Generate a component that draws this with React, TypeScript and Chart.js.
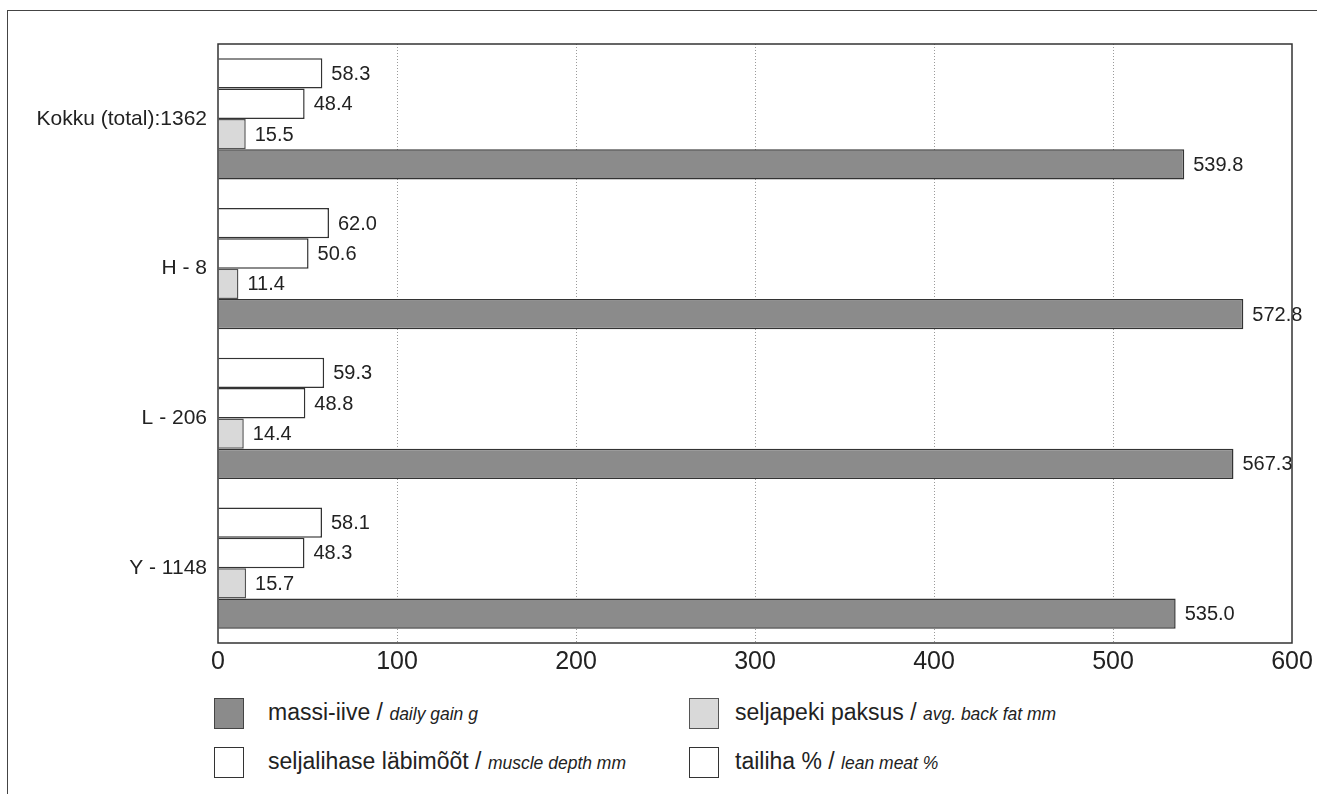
import React, { useEffect, useRef } from "react";
import { Chart, registerables } from "chart.js";

Chart.register(...registerables);

const categories = ["Kokku (total):1362", "H - 8", "L - 206", "Y - 1148"];
const leanMeat = [58.3, 62.0, 59.3, 58.1];
const muscleDepth = [48.4, 50.6, 48.8, 48.3];
const backFat = [15.5, 11.4, 14.4, 15.7];
const dailyGain = [539.8, 572.8, 567.3, 535.0];
const xTicks = [0, 100, 200, 300, 400, 500, 600];

const FONT = "'Liberation Sans', Arial, sans-serif";

const DARK = "#8b8b8b";
const LIGHT = "#d9d9d9";

const frameBox = {
  id: "frameBox",
  afterDraw(chart: any) {
    const { ctx, chartArea } = chart;
    ctx.save();
    ctx.strokeStyle = "#333";
    ctx.lineWidth = 1.5;
    ctx.strokeRect(chartArea.left, chartArea.top, chartArea.right - chartArea.left, chartArea.bottom - chartArea.top);
    ctx.restore();
  },
};

const valueLabels = {
  id: "valueLabels",
  afterDatasetsDraw(chart: any) {
    const { ctx } = chart;
    ctx.save();
    ctx.font = `20px ${FONT}`;
    ctx.fillStyle = "#222";
    ctx.textAlign = "left";
    ctx.textBaseline = "middle";
    chart.data.datasets.forEach((ds: any, i: number) => {
      const meta = chart.getDatasetMeta(i);
      meta.data.forEach((el: any, j: number) => {
        const v = ds.data[j] as number;
        ctx.fillText(v.toFixed(1), el.x + 9, el.y + 1);
      });
    });
    ctx.restore();
  },
};

function App() {
  const ref = useRef<HTMLCanvasElement | null>(null);
  useEffect(() => {
    if (!ref.current) return;
    const chart = new Chart(ref.current, {
      type: "bar",
      data: {
        labels: categories,
        datasets: [
          { label: "tailiha % / lean meat %", data: leanMeat, backgroundColor: "#ffffff", borderColor: "#333", borderWidth: 1.5 },
          { label: "seljalihase läbimõõt / muscle depth mm", data: muscleDepth, backgroundColor: "#ffffff", borderColor: "#333", borderWidth: 1.5 },
          { label: "seljapeki paksus / avg. back fat mm", data: backFat, backgroundColor: LIGHT, borderColor: "#555", borderWidth: 1.5 },
          { label: "massi-iive / daily gain g", data: dailyGain, backgroundColor: DARK, borderColor: "#333", borderWidth: 1.5 },
        ],
      },
      options: {
        indexAxis: "y",
        animation: false,
        responsive: false,
        maintainAspectRatio: false,
        layout: { padding: { left: 0, right: 25, top: 44, bottom: 0 } },
        datasets: { bar: { categoryPercentage: 0.81, barPercentage: 1.0 } },
        plugins: { legend: { display: false }, tooltip: { enabled: false } },
        scales: {
          x: {
            min: 0,
            max: 600,
            afterBuildTicks: (s: any) => {
              s.ticks = xTicks.map((v) => ({ value: v }));
            },
            afterFit: (s: any) => {
              s.height = 37;
            },
            ticks: { color: "#222", font: { family: FONT, size: 25 }, padding: 4 },
            grid: {
              color: (c: any) => (c.tick && (c.tick.value === 0 || c.tick.value === 600) ? "rgba(0,0,0,0)" : "#9a9a9a"),
              lineWidth: 1,
              drawTicks: false,
            },
            border: { display: false, dash: [1, 2] },
          },
          y: {
            afterFit: (s: any) => {
              s.width = 218;
            },
            ticks: { color: "#222", font: { family: FONT, size: 21 }, padding: 11 },
            grid: { display: false, drawTicks: false },
            border: { display: false },
          },
        },
      },
      plugins: [valueLabels, frameBox],
    });
    return () => chart.destroy();
  }, []);

  const sq = (bg: string, border: string) => ({
    position: "absolute" as const,
    width: 30,
    height: 31,
    background: bg,
    border: `1.5px solid ${border}`,
    boxSizing: "border-box" as const,
  });
  const txt = {
    position: "absolute" as const,
    fontFamily: FONT,
    fontSize: 23,
    color: "#222",
    whiteSpace: "nowrap" as const,
    lineHeight: "31px",
  };
  const it = { fontStyle: "italic", fontSize: 17.5 };

  return (
    <div style={{ position: "fixed", left: 0, top: 0, width: 1317, height: 794, background: "#fff", overflow: "hidden" }}>
      <div style={{ position: "absolute", left: 7, top: 10, width: 1320, height: 800, borderLeft: "1.5px solid #444", borderTop: "1.5px solid #444" }} />
      <canvas ref={ref} width={1317} height={680} style={{ position: "absolute", left: 0, top: 0, width: 1317, height: 680 }} />
      <div style={{ ...sq(DARK, "#444"), left: 214, top: 698 }} />
      <div style={{ ...txt, left: 268, top: 697 }}>
        massi-iive / <span style={it}>daily gain g</span>
      </div>
      <div style={{ ...sq("#fff", "#333"), left: 214, top: 747 }} />
      <div style={{ ...txt, left: 268, top: 746 }}>
        seljalihase läbimõõt / <span style={it}>muscle depth mm</span>
      </div>
      <div style={{ ...sq(LIGHT, "#555"), left: 689, top: 698 }} />
      <div style={{ ...txt, left: 735, top: 697 }}>
        seljapeki paksus / <span style={it}>avg. back fat mm</span>
      </div>
      <div style={{ ...sq("#fff", "#333"), left: 689, top: 747 }} />
      <div style={{ ...txt, left: 735, top: 746 }}>
        tailiha % / <span style={it}>lean meat %</span>
      </div>
    </div>
  );
}

export default App;
